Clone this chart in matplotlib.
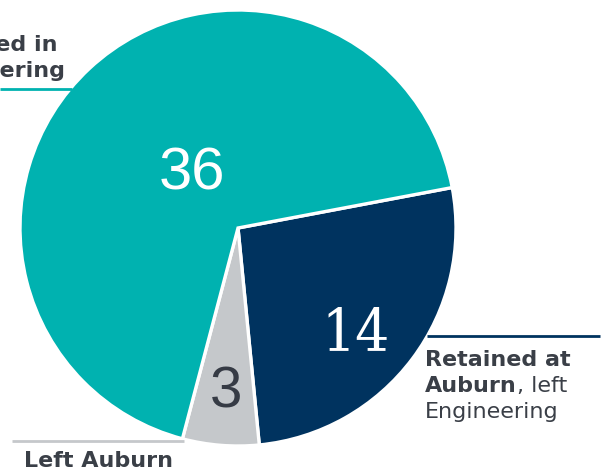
import matplotlib
matplotlib.use("Agg")
import matplotlib.pyplot as plt

# Student outcomes
categories = ["Retained at Auburn, left Engineering", "Left Auburn", "Retained in Engineering"]
counts = [14, 3, 36]
colors = ["#00335F", "#C5C8CB", "#00B2B0"]

W, H = 608, 470
TEXT = "#3A3F47"

fig = plt.figure(figsize=(W / 100, H / 100), dpi=100)
ax = fig.add_axes([0, 0, 1, 1])

cx, cy, r = 238, 228, 218


def Y(y):
    return H - y


wedges, _ = ax.pie(
    counts,
    colors=colors,
    startangle=10.7,
    counterclock=False,
    center=(cx, Y(cy)),
    radius=r,
    wedgeprops=dict(edgecolor="white", linewidth=2.4),
)
ax.set_xlim(0, W)
ax.set_ylim(0, H)
ax.set_aspect("equal")
ax.axis("off")

# value labels inside wedges
ax.text(192, Y(174), str(counts[2]), color="white", fontsize=43,
        family="Liberation Sans", ha="center", va="center")
ax.text(356, Y(334), str(counts[0]), color="white", fontsize=43,
        family="DejaVu Serif", fontstretch="condensed", ha="center", va="center")
ax.text(226, Y(393), str(counts[1]), color="#363B45", fontsize=42,
        family="Liberation Sans", ha="center", va="center")

fs = 16

# Retained in Engineering (top left)
ax.plot([0, 72], [Y(89), Y(89)], color=colors[2], lw=2, solid_capstyle="butt")
ax.text(65, Y(77), "Retained in\nEngineering", color=TEXT, fontsize=fs,
        fontweight="bold", ha="right", va="baseline", multialignment="left",
        linespacing=1.38)

# Retained at Auburn, left Engineering (right)
ax.plot([427, 600], [Y(336), Y(336)], color=colors[0], lw=2, solid_capstyle="butt")
ax.text(425, Y(366), "Retained at", color=TEXT, fontsize=fs, fontweight="bold",
        ha="left", va="baseline")
t_aub = ax.text(425, Y(392), "Auburn", color=TEXT, fontsize=fs, fontweight="bold",
                ha="left", va="baseline")
ax.annotate(", left", xy=(1, 0), xycoords=t_aub, color=TEXT, fontsize=fs,
            ha="left", va="bottom")
ax.text(425, Y(418), "Engineering", color=TEXT, fontsize=fs,
        ha="left", va="baseline")

# Left Auburn (bottom)
ax.plot([12, 184], [Y(441), Y(441)], color=colors[1], lw=2, solid_capstyle="butt")
ax.text(24, Y(467), "Left Auburn", color=TEXT, fontsize=fs, fontweight="bold",
        ha="left", va="baseline")

fig.savefig("out.png", dpi=100)
